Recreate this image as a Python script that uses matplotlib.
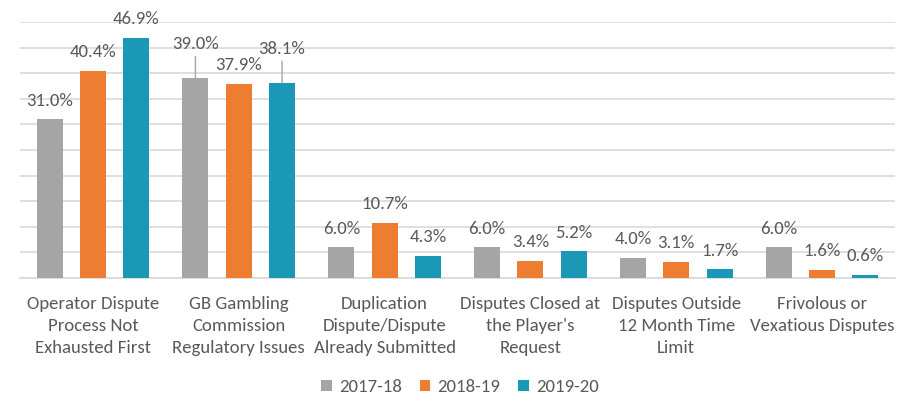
import matplotlib
matplotlib.use('Agg')
import matplotlib.pyplot as plt
import matplotlib.font_manager as fm
import numpy as np

# ---------- データ ----------
categories = [
    'Operator Dispute\nProcess Not\nExhausted First',
    'GB Gambling\nCommission\nRegulatory Issues',
    'Duplication\nDispute/Dispute\nAlready Submitted',
    'Disputes Closed at\nthe Player\'s\nRequest',
    'Disputes Outside\n12 Month Time\nLimit',
    'Frivolous or\nVexatious Disputes',
]
series_names = ['2017-18', '2018-19', '2019-20']
v_2017 = [31.0, 39.0, 6.0, 6.0, 4.0, 6.0]
v_2018 = [40.4, 37.9, 10.7, 3.4, 3.1, 1.6]
v_2019 = [46.9, 38.1, 4.3, 5.2, 1.7, 0.6]
colors = ['#A5A5A5', '#ED7D31', '#1B98B6']

# ラベルを上にずらす（引き出し線あり）データ点
leader = {(1, 0), (1, 2)}

avail = set(f.name for f in fm.fontManager.ttflist)
for fam in ['Carlito', 'Lato', 'Open Sans']:
    if fam in avail:
        plt.rcParams['font.family'] = [fam, 'DejaVu Sans']
        break

TXT = '#595959'
FS = 13.5

fig = plt.figure(figsize=(9.16, 4.15), dpi=100)
ax = fig.add_axes([20 / 916, 137 / 415, 875 / 916, 256 / 415])

x = np.arange(len(categories))
width = 0.178
step = 0.297
for i, vals in enumerate([v_2017, v_2018, v_2019]):
    pos = x + (i - 1) * step
    ax.bar(pos, vals, width=width, color=colors[i], label=series_names[i], zorder=3)
    for j, (px, v) in enumerate(zip(pos, vals)):
        if (j, i) in leader:
            ax.annotate(f'{v:.1f}%', xy=(px, v), xytext=(0, 24.5),
                        textcoords='offset points', ha='center', va='center',
                        fontsize=FS, color=TXT,
                        arrowprops=dict(arrowstyle='-', color='#A6A6A6', lw=1,
                                        shrinkA=1, shrinkB=0))
        else:
            ax.annotate(f'{v:.1f}%', xy=(px, v), xytext=(0, 13.5),
                        textcoords='offset points', ha='center', va='center',
                        fontsize=FS, color=TXT)

ax.set_xlim(-0.5, len(categories) - 0.5)
ax.set_ylim(0, 50)
ax.set_yticks(np.arange(0, 51, 5))
ax.set_yticklabels([])
ax.yaxis.grid(True, color='#D9D9D9', lw=1.2, zorder=0)
ax.set_axisbelow(True)
ax.tick_params(axis='y', length=0)
ax.set_xticks(x)
ax.set_xticklabels(categories, fontsize=FS, color=TXT, linespacing=1.47)
ax.tick_params(axis='x', length=0, pad=13)
for s in ['top', 'left', 'right']:
    ax.spines[s].set_visible(False)
ax.spines['bottom'].set_color('#D9D9D9')
ax.spines['bottom'].set_linewidth(1.2)

fig.legend(loc='center', bbox_to_anchor=(460 / 916, 1 - 387 / 415), ncol=3,
           frameon=False, fontsize=FS, labelcolor=TXT,
           handlelength=0.55, handleheight=0.55, handletextpad=0.4,
           columnspacing=0.95)

fig.savefig('out.png', dpi=100)
